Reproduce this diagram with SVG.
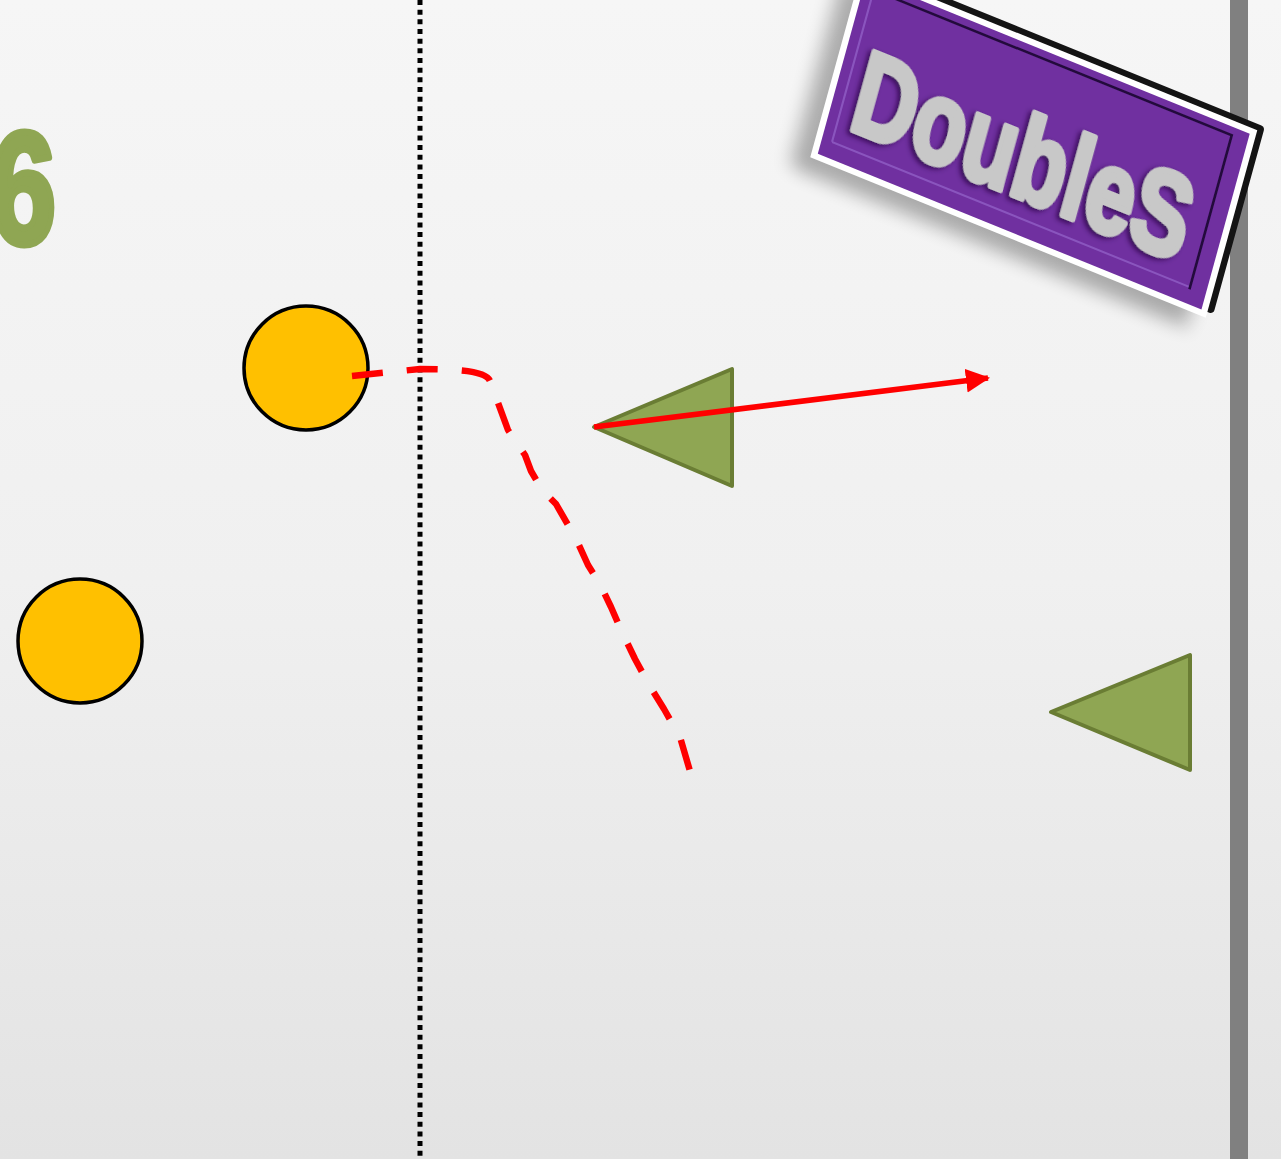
<svg xmlns="http://www.w3.org/2000/svg" width="1281" height="1159" viewBox="0 0 1281 1159">
  <defs>
    <linearGradient id="bg" x1="0" y1="0" x2="0" y2="1">
      <stop offset="0" stop-color="#F6F6F6"/>
      <stop offset="0.5" stop-color="#F0F0F0"/>
      <stop offset="1" stop-color="#E3E3E3"/>
    </linearGradient>
    <filter id="soft" x="-20%" y="-20%" width="140%" height="140%">
      <feGaussianBlur stdDeviation="9"/>
    </filter>
    <filter id="txtsh" x="-10%" y="-10%" width="120%" height="130%">
      <feGaussianBlur in="SourceAlpha" stdDeviation="2.5" result="b"/>
      <feOffset in="b" dx="-3" dy="3" result="o"/>
      <feFlood flood-color="#2a0b45" flood-opacity="0.75"/>
      <feComposite in2="o" operator="in" result="s"/>
      <feMerge><feMergeNode in="s"/><feMergeNode in="SourceGraphic"/></feMerge>
    </filter>
    <marker id="ah" markerUnits="userSpaceOnUse" markerWidth="26" markerHeight="26" refX="22" refY="12" orient="auto">
      <path d="M0,0 L24,12 L0,24 Z" fill="#FF0000"/>
    </marker>
    <style>
      .player { fill: #FFC000; stroke: #000000; stroke-width: 3.5; }
      .cone { fill: #8FA653; stroke: #6A7D34; stroke-width: 4; stroke-linejoin: round; }
      .run { fill: none; stroke: #FF0000; stroke-width: 6.5; stroke-dasharray: 31 24; stroke-linejoin: round; }
      .pass { fill: none; stroke: #FF0000; stroke-width: 5.5; }
      .sideline { fill: none; stroke: #000000; stroke-width: 5; stroke-dasharray: 5 4.67; }
      .signtxt { font-family: "Liberation Sans", Arial, sans-serif; font-weight: bold; fill: #C8C8C8; stroke: #C8C8C8; stroke-width: 6; stroke-linejoin: round; }
      .num { font-family: "Liberation Sans", Arial, sans-serif; font-weight: bold; fill: #8FA653; stroke: #8FA653; stroke-width: 7; stroke-linejoin: round; }
    </style>
  </defs>

  <rect x="0" y="0" width="1281" height="1159" fill="url(#bg)"/>

  <g id="court-lines">
    <line class="sideline" x1="420" y1="0" x2="420" y2="1159"/>
    <rect x="1230" y="0" width="18" height="1159" fill="#808080"/>
  </g>

  <g id="label-6">
    <text class="num" x="-10" y="243" font-size="160" textLength="66" lengthAdjust="spacingAndGlyphs">6</text>
  </g>

  <g id="sign">
    <g transform="matrix(0.9888 0.4013 -0.2711 0.9868 861.75 -30.25)">
      <rect x="-16" y="16" width="400" height="190" fill="#000" opacity="0.3" filter="url(#soft)"/>
      <rect x="6" y="-6" width="400" height="190" rx="4" fill="#141414"/>
      <rect x="0" y="0" width="400" height="190" fill="#FFFFFF"/>
      <rect x="6" y="6" width="388" height="178" fill="#7030A0"/>
      <polyline points="16,168 16,14 378,14 378,168 16,168" fill="none" stroke="#8A55BE" stroke-width="2"/>
      <polyline points="16,14 378,14 378,170" fill="none" stroke="#230A3C" stroke-width="2.5"/>
      <text class="signtxt" x="26" y="150" font-size="114" textLength="336" lengthAdjust="spacingAndGlyphs" filter="url(#txtsh)">DoubleS</text>
    </g>
  </g>

  <g id="players">
    <circle id="player-1" class="player" cx="306" cy="368" r="62"/>
    <circle id="player-2" class="player" cx="80" cy="641" r="62"/>
  </g>

  <g id="cones">
    <polygon id="cone-1" class="cone" points="594,427 732,369 732,486"/>
    <polygon id="cone-2" class="cone" points="1051,712 1190,655 1190,770"/>
  </g>

  <g id="connectors">
    <path class="run" d="M352,376 L420,369 C470,369 487,373 490,381 L508,430 L525,455 L531,471 L542,490 L556,504 L568,525 L578,543 L588,565 L600,584 L611,607 L621,630 L635,659 L648,683 L664,709 L680,737 L692,778"/>
    <line class="pass" x1="594" y1="427" x2="988" y2="378" marker-end="url(#ah)"/>
  </g>
</svg>
